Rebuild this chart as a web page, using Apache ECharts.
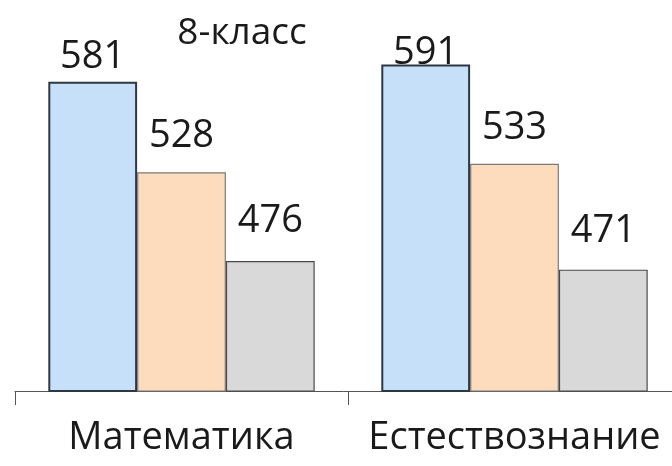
<!DOCTYPE html>
<html>
<head>
<meta charset="utf-8">
<script src="https://cdn.jsdelivr.net/npm/echarts@6/dist/echarts.min.js"></script>
<style>
  html, body { margin: 0; padding: 0; background: #fff; }
  #chart { width: 672px; height: 466px; }
</style>
</head>
<body>
<div id="chart"></div>
<script>
const categories = ["Математика", "Естествознание"];
const seriesA = [581, 591];
const seriesB = [528, 533];
const seriesC = [476, 471];

const chart = echarts.init(document.getElementById("chart"));

const font = "'Open Sans', 'Noto Sans', sans-serif";

function makeSeries(data, color, border, borderWidth, gaps) {
  return {
    type: "bar",
    barGap: "0%",
    barCategoryGap: "20%",
    data: data.map((v, i) => ({ value: v, label: { distance: gaps[i] } })),
    itemStyle: { color: color, borderColor: border, borderWidth: borderWidth },
    label: {
      show: true,
      position: "top",
      fontFamily: font,
      fontSize: 38,
      color: "#1a1a1a"
    }
  };
}

chart.setOption({
  animation: false,
  title: {
    text: "8-класс",
    left: 237,
    top: 10,
    textAlign: "center",
    textStyle: { fontFamily: font, fontSize: 37, fontWeight: "normal", color: "#1a1a1a" }
  },
  grid: { left: 15, top: 15, width: 666, height: 376, outerBoundsMode: "none" },
  xAxis: {
    type: "category",
    data: categories,
    axisLine: { lineStyle: { color: "#555", width: 1 } },
    axisTick: { show: true, interval: 0, length: 14, lineStyle: { color: "#555" } },
    axisLabel: { interval: 0, fontFamily: font, fontSize: 38, color: "#1a1a1a", margin: 28 }
  },
  yAxis: {
    type: "value",
    min: 400,
    max: 620,
    show: false,
    splitLine: { show: false }
  },
  series: [
    makeSeries(seriesA, "#c6e0f9", "#2e3842", 2, [5, -8]),
    makeSeries(seriesB, "#fddcbd", "#7a7a7a", 1.2, [17, 17]),
    makeSeries(seriesC, "#d9d9d9", "#4a4a4a", 1.2, [21, 19])
  ]
});
</script>
</body>
</html>
